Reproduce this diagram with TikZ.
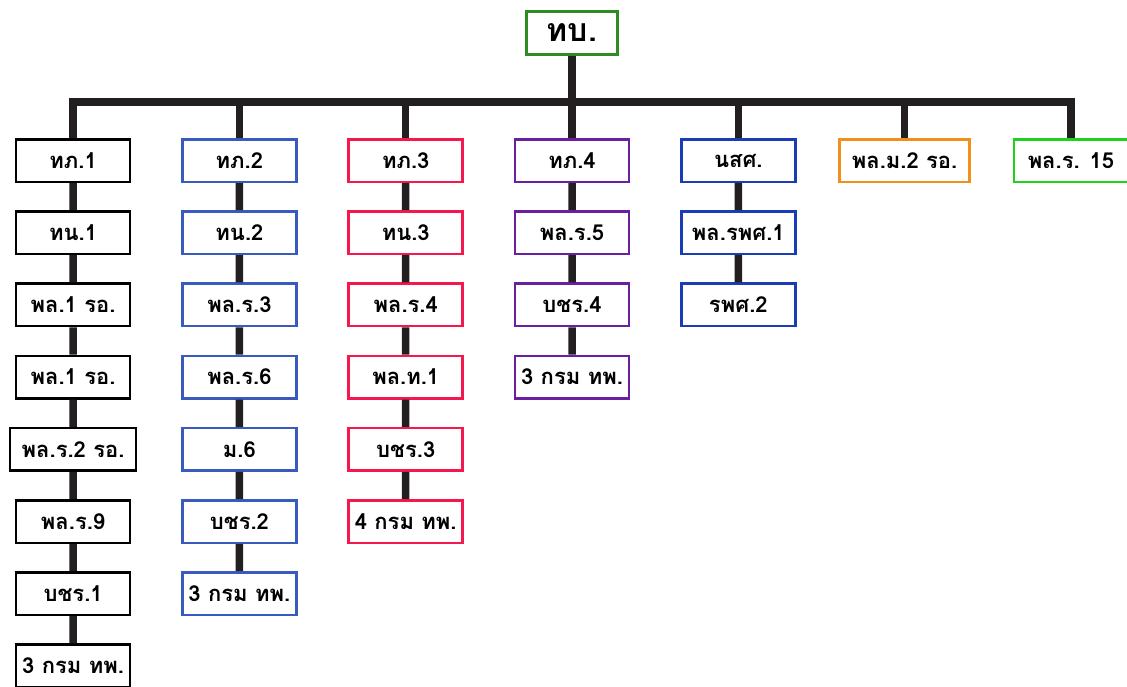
\documentclass[tikz,border=0pt]{standalone}
\usepackage{fontspec}
\newfontfamily\thaifont[Script=Thai]{Loma}
\usetikzlibrary{positioning,trees}
\definecolor{barcol}{HTML}{231F20}
\definecolor{topgreen}{HTML}{2E8B22}
\definecolor{blueA}{HTML}{3A5BBE}
\definecolor{redA}{HTML}{F5174D}
\definecolor{purpleA}{HTML}{6A1FA0}
\definecolor{navyA}{HTML}{1A3DB5}
\definecolor{orangeA}{HTML}{F0901A}
\definecolor{greenA}{HTML}{1ED21E}

\begin{document}
\begin{tikzpicture}[x=1pt,y=1pt,level/.style={level distance=72.2pt,edge from parent path={(\tikzparentnode) -- (\tikzchildnode)}},level 1/.style={level distance=127.5pt,sibling distance=166.3pt,edge from parent path={(\tikzparentnode.south) -- ++(0,-46) -| (\tikzchildnode.north)}},edge from parent/.style={draw=barcol,line width=7.5pt},col/.style={every node/.append style={draw=#1}},every node/.style = {draw, line width=2.5pt, minimum width=114pt, minimum height=42.5pt, inner sep=2pt, font=\thaifont\bfseries\fontsize{22}{25}\selectfont}]
\useasboundingbox (0,0) rectangle (1127,-686);
\node[draw=topgreen,minimum width=91pt,minimum height=43pt,font=\thaifont\bfseries\fontsize{32}{34}\selectfont](root) at (572,-33) {ทบ.}
child[col=black] { node (a1) {ทภ.1}
child { node (a2) {ทน.1}
child { node (a3) {พล.1 รอ.}
child { node (a4) {พล.1 รอ.}
child { node[minimum width=126pt] (a5) {พล.ร.2 รอ.}
child { node (a6) {พล.ร.9}
child { node (a7) {บชร.1}
child { node (a8) {3 กรม ทพ.} } } } } } } } }
child[col=blueA] { node (b1) {ทภ.2}
child { node (b2) {ทน.2}
child { node (b3) {พล.ร.3}
child { node (b4) {พล.ร.6}
child { node (b5) {ม.6}
child { node (b6) {บชร.2}
child { node (b7) {3 กรม ทพ.} } } } } } } }
child[col=redA] { node (c1) {ทภ.3}
child { node (c2) {ทน.3}
child { node (c3) {พล.ร.4}
child { node (c4) {พล.ท.1}
child { node (c5) {บชร.3}
child { node (c6) {4 กรม ทพ.} } } } } } }
child[col=purpleA] { node (d1) {ทภ.4}
child { node (d2) {พล.ร.5}
child { node (d3) {บชร.4}
child { node (d4) {3 กรม ทพ.} } } } }
child[col=navyA] { node (e1) {นสศ.}
child { node (e2) {พล.รพศ.1}
child { node (e3) {รพศ.2} } } }
child[col=orangeA] { node[minimum width=130pt] (f1) {พล.ม.2 รอ.} }
child[col=greenA] { node (g1) {พล.ร. 15} };
\end{tikzpicture}
\end{document}
